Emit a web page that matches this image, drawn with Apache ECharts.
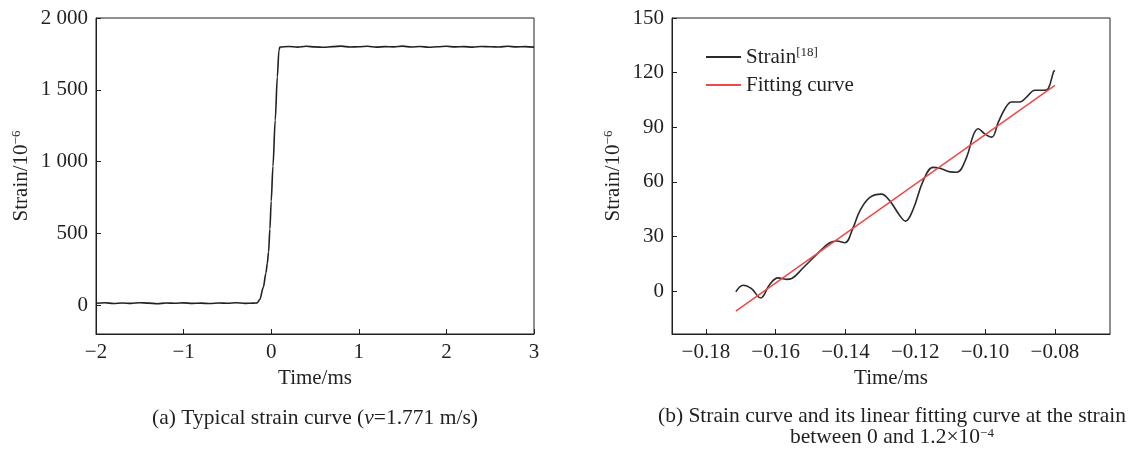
<!DOCTYPE html>
<html>
<head>
<meta charset="utf-8">
<script src="https://cdn.jsdelivr.net/npm/echarts@6/dist/echarts.min.js"></script>
<style>
html,body{margin:0;padding:0;background:#fff;}
#c{width:1129px;height:453px;}
</style>
</head>
<body>
<div id="c"></div>
<script>
// ---- Panel (a) data ----
const timeA = [-2.0,-1.9,-1.8,-1.7,-1.6,-1.5,-1.4,-1.3,-1.2,-1.1,-1.0,-0.9,-0.8,-0.7,-0.6,-0.5,-0.4,-0.3,-0.2,
  -0.16,-0.13,-0.09,-0.06,-0.045,-0.03,-0.015,0.0,0.02,0.046,0.07,0.088,0.1,
  0.2,0.3,0.4,0.5,0.6,0.7,0.8,0.9,1.0,1.1,1.2,1.3,1.4,1.5,1.6,1.7,1.8,1.9,2.0,2.1,2.2,2.3,2.4,2.5,2.6,2.7,2.8,2.9,3.0];
const strainA = [14,18,12,16,13,18,15,11,16,14,17,13,15,12,16,14,18,13,15,
  17,40,125,225,290,370,530,724,968,1289,1590,1775,1798,
  1802,1797,1803,1799,1796,1801,1804,1798,1800,1803,1797,1801,1799,1804,1798,1802,1796,1800,1803,1799,1801,1797,1802,1800,1798,1803,1799,1801,1797];
const xTicksA = [-2,-1,0,1,2,3];
const yTicksA = [0,500,1000,1500,2000];

// ---- Panel (b) data ----
const timeB = [-0.1714,-0.1693,-0.1670,-0.1643,-0.1617,-0.1593,-0.1570,-0.1554,-0.1521,-0.1473,-0.1445,-0.1425,-0.1402,
  -0.1378,-0.1359,-0.1330,-0.1297,-0.1273,-0.1244,-0.1228,-0.1206,-0.1177,-0.1149,-0.1129,-0.1100,-0.1081,
  -0.1053,-0.1034,-0.1020,-0.1001,-0.0981,-0.0962,-0.0943,-0.0924,-0.0900,-0.0881,-0.0857,-0.0833,-0.0819,-0.0804,-0.0800];
const strainB = [-0.4,3.3,1.5,-3.7,3.7,7.3,6.5,7.0,12.9,22.0,26.6,27.6,26.6,
  34.9,44.0,51.5,53.3,49.6,41.4,38.5,45.0,60.7,68.0,67.5,65.5,65.3,
  73.5,85.5,89.2,86.4,84.6,92.8,100.2,103.9,103.9,106.6,110.3,110.3,111.2,120.4,121.3];
const fitTime = [-0.1714,-0.0800];
const fitStrain = [-11,113];
const xTicksB = [-0.18,-0.16,-0.14,-0.12,-0.10,-0.08];
const yTicksB = [0,30,60,90,120,150];

const FONT = '"Liberation Serif","DejaVu Serif",serif';
const TXT = '#231f20';
const FS = 21;
const minus = s => String(s).replace('-', '\u2212');
const thousands = v => v >= 1000 ? Math.floor(v/1000) + ' ' + String(v % 1000).padStart(3,'0') : String(v);

const chart = echarts.init(document.getElementById('c'), null, {renderer:'canvas'});

function gridBox(left){
  return {left:left, top:18, width:438, height:316, show:true, borderColor:'#231f20', borderWidth:1, backgroundColor:'transparent', containLabel:false};
}
const axisCommon = {
  axisLine:{show:true, onZero:false, lineStyle:{color:'#231f20', width:1}},
  axisTick:{show:true, inside:true, length:5, lineStyle:{color:'#231f20', width:1}},
  splitLine:{show:false},
  axisLabel:{color:TXT, fontFamily:FONT, fontSize:FS},
  nameTextStyle:{color:TXT, fontFamily:FONT, fontSize:FS},
  nameLocation:'middle'
};
const supRich = {sup:{fontFamily:FONT, fontSize:13, color:TXT, verticalAlign:'top', padding:[0,0,9,0]}};

const option = {
  animation:false,
  backgroundColor:'#fff',
  grid:[gridBox(96), gridBox(672)],
  xAxis:[
    Object.assign({}, axisCommon, {
      gridIndex:0, type:'value', min:-2, max:3, interval:1,
      name:'Time/ms', nameGap:34,
      axisLabel:Object.assign({}, axisCommon.axisLabel, {margin:8, formatter:v=>minus(v)})
    }),
    Object.assign({}, axisCommon, {
      gridIndex:1, type:'value', min:-0.1897, max:-0.0642,
      name:'Time/ms', nameGap:34,
      axisTick:Object.assign({}, axisCommon.axisTick, {customValues:xTicksB}),
      axisLabel:Object.assign({}, axisCommon.axisLabel, {margin:8, customValues:xTicksB, formatter:v=>minus(v.toFixed(2))})
    })
  ],
  yAxis:[
    Object.assign({}, axisCommon, {
      gridIndex:0, type:'value', min:-200, max:2000,
      name:'Strain/10{sup|\u22126}', nameGap:64,
      nameTextStyle:Object.assign({}, axisCommon.nameTextStyle, {rich:supRich}),
      axisTick:Object.assign({}, axisCommon.axisTick, {customValues:yTicksA}),
      axisLabel:Object.assign({}, axisCommon.axisLabel, {margin:8, customValues:yTicksA, formatter:v=>thousands(v)})
    }),
    Object.assign({}, axisCommon, {
      gridIndex:1, type:'value', min:-23.5, max:150,
      name:'Strain/10{sup|\u22126}', nameGap:48,
      nameTextStyle:Object.assign({}, axisCommon.nameTextStyle, {rich:supRich}),
      axisTick:Object.assign({}, axisCommon.axisTick, {customValues:yTicksB}),
      axisLabel:Object.assign({}, axisCommon.axisLabel, {margin:8, customValues:yTicksB, formatter:v=>String(v)})
    })
  ],
  legend:{
    orient:'vertical', left:701, top:41, itemWidth:35, itemHeight:2, itemGap:7, icon:'rect',
    data:['Strain','Fitting curve'],
    formatter: n => n === 'Strain' ? 'Strain{sup|[18]}' : n,
    textStyle:{color:TXT, fontFamily:FONT, fontSize:FS, rich:supRich}
  },
  title:[
    {text:'(a) Typical strain curve ({i|v}=1.771 m/s)', left:310, top:402, textAlign:'center',
     textStyle:{color:TXT, fontFamily:FONT, fontSize:21.5, fontWeight:'normal', rich:{i:{fontFamily:FONT, fontSize:21.5, fontStyle:'italic', color:TXT}}}},
    {text:'(b) Strain curve and its linear fitting curve at the strain\nbetween 0 and 1.2\u00d710{sup|\u22124}', left:887, top:401, textAlign:'center',
     textStyle:{color:TXT, fontFamily:FONT, fontSize:21.5, fontWeight:'normal', lineHeight:21, align:'center', rich:{sup:{fontFamily:FONT, fontSize:13, color:TXT, verticalAlign:'top', padding:[0,0,8,0]}}}}
  ],
  series:[
    {type:'line', xAxisIndex:0, yAxisIndex:0, data:timeA.map((t,i)=>[t,strainA[i]]), showSymbol:false, symbol:'none',
     smooth:0.3, smoothMonotone:'x',
     lineStyle:{color:'#222', width:1.6}, itemStyle:{color:'#222'}},
    {name:'Strain', type:'line', xAxisIndex:1, yAxisIndex:1, data:timeB.map((t,i)=>[t,strainB[i]]), showSymbol:false, symbol:'none', smooth:0.4,
     lineStyle:{color:'#2b2b2b', width:1.6}, itemStyle:{color:'#2b2b2b'}},
    {name:'Fitting curve', type:'line', xAxisIndex:1, yAxisIndex:1, data:fitTime.map((t,i)=>[t,fitStrain[i]]), showSymbol:false, symbol:'none',
     lineStyle:{color:'#f0484a', width:1.5}, itemStyle:{color:'#f0484a'}}
  ]
};
chart.setOption(option);
</script>
</body>
</html>
